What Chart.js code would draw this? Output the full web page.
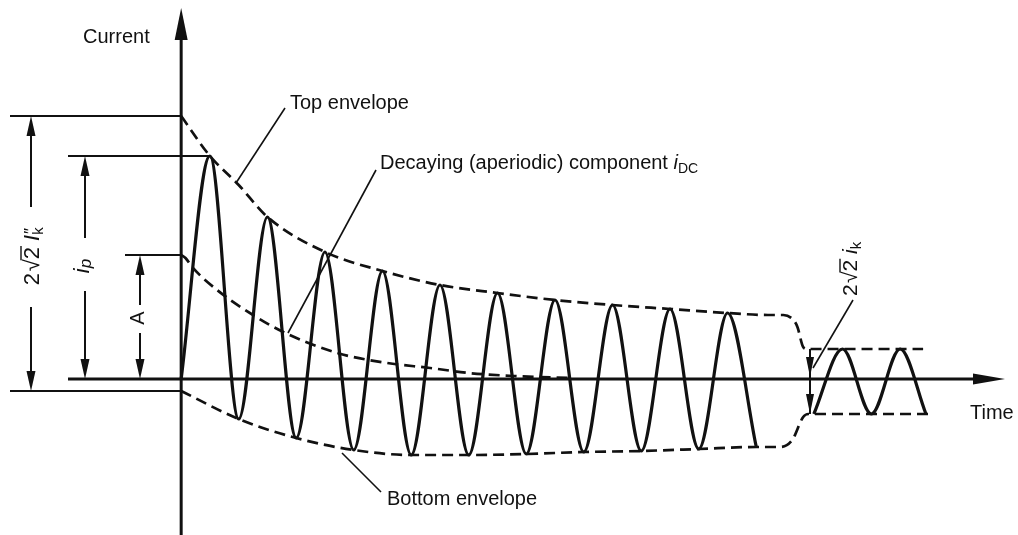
<!DOCTYPE html>
<html>
<head>
<meta charset="utf-8">
<script src="https://cdn.jsdelivr.net/npm/chart.js@4"></script>
<style>
  html, body { margin: 0; padding: 0; background: #fff; }
  #wrap { width: 1018px; height: 535px; position: relative; }
</style>
</head>
<body>
<div id="wrap"><canvas id="chart"></canvas></div>
<script>
// time in ms (one period = 20 ms), current in kA
const waveTime = [0, 10, 20, 30, 40, 50, 60, 70, 80, 90, 100, 110, 120, 130, 140, 150, 160, 170, 180, 190, 200];
const waveCurrent = [0, 22.3, -4.0, 16.2, -5.9, 12.7, -7.1, 10.8, -7.6, 9.4, -7.6, 8.6, -7.5, 7.9, -7.3, 7.4, -7.2, 7.0, -7.0, 6.6, -6.8];

const steadyTime = [220, 230, 240, 250, 259];
const steadyCurrent = [-3.5, 3.0, -3.5, 3.0, -3.5];

const topEnvTime = [0, 10, 20, 30, 50, 70, 90, 110, 130, 150, 170, 190, 204, 209.4, 212.9, 214.3, 216.3, 217.7, 258];
const topEnvCurrent = [26.3, 22.3, 19.4, 16.2, 12.7, 10.8, 9.4, 8.6, 7.9, 7.4, 7.0, 6.6, 6.4, 6.4, 5.9, 5.2, 3.2, 3.0, 3.0];

const bottomEnvTime = [0, 20, 40, 60, 80, 100, 120, 140, 160, 180, 200, 208.3, 212.5, 216.3, 218.1, 259.8];
const bottomEnvCurrent = [-1.2, -4.0, -5.9, -7.1, -7.6, -7.6, -7.5, -7.3, -7.2, -7.0, -6.8, -6.8, -6.1, -3.8, -3.5, -3.5];

const dcTime = [0, 1.5, 3.8, 12.5, 25, 35.5, 54.3, 71.7, 86.6, 100, 115.5, 135];
const dcCurrent = [12.4, 12.1, 11.2, 8.9, 6.4, 4.7, 2.6, 1.6, 1.1, 0.6, 0.3, 0.1];

const timeRange = [-63, 291];
const currentRange = [-15.6, 37.9];

const INK = '#111';
const FONT = "'Liberation Sans', Arial, sans-serif";

function pts(xs, ys) {
  return xs.map((x, i) => ({ x: x, y: ys[i] }));
}

function seg(ctx, x1, y1, x2, y2, w) {
  ctx.lineWidth = w;
  ctx.beginPath();
  ctx.moveTo(x1, y1);
  ctx.lineTo(x2, y2);
  ctx.stroke();
}

function head(ctx, x, y, dir, len, half) {
  len = len || 20; half = half || 4.5;
  ctx.beginPath();
  ctx.moveTo(x, y);
  if (dir === 'up') { ctx.lineTo(x - half, y + len); ctx.lineTo(x + half, y + len); }
  if (dir === 'down') { ctx.lineTo(x - half, y - len); ctx.lineTo(x + half, y - len); }
  if (dir === 'right') { ctx.lineTo(x - len, y - half); ctx.lineTo(x - len, y + half); }
  ctx.closePath();
  ctx.fill();
}

function fontOf(p) {
  return (p.italic ? 'italic ' : '') + (p.size || 20) + 'px ' + FONT;
}

// draws a run of text parts; rotated = reads bottom to top
function rich(ctx, parts, x, y, rotated, center) {
  ctx.save();
  ctx.translate(x, y);
  if (rotated) ctx.rotate(-Math.PI / 2);
  ctx.textBaseline = 'alphabetic';
  ctx.textAlign = 'left';
  const widths = parts.map(p => { ctx.font = fontOf(p); return ctx.measureText(p.text).width; });
  let total = 0;
  parts.forEach((p, i) => { if (!p.stack) total += widths[i]; });
  let cx = center ? -total / 2 : 0;
  let prevX = cx;
  parts.forEach((p, i) => {
    ctx.font = fontOf(p);
    const px = p.stack ? prevX : cx;
    ctx.fillText(p.text, px, p.dy || 0);
    if (p.overline) {
      const oy = -Math.round((p.size || 20) * 0.8);
      ctx.lineWidth = 1.4;
      ctx.beginPath();
      ctx.moveTo(px - 1, oy);
      ctx.lineTo(px + widths[i] + 1, oy);
      ctx.stroke();
    }
    prevX = px;
    if (!p.stack) cx = px + widths[i];
    else cx = Math.max(cx, px + widths[i]);
  });
  ctx.restore();
  return total;
}

const sketch = {
  id: 'sketch',
  afterDatasetsDraw(chart) {
    const ctx = chart.ctx;
    const xs = chart.scales.x, ys = chart.scales.y;
    const X = v => xs.getPixelForValue(v);
    const Y = v => ys.getPixelForValue(v);
    ctx.save();
    ctx.strokeStyle = INK;
    ctx.fillStyle = INK;
    ctx.lineCap = 'butt';

    const x0 = X(0), y0 = Y(0);
    // axes
    seg(ctx, x0, 535, x0, 30, 3);
    head(ctx, x0, 8, 'up', 32, 6.5);
    seg(ctx, 68, y0, 985, y0, 3);
    head(ctx, 1005, y0, 'right', 32, 5.5);

    // extension lines on the left
    const yTop = Y(topEnvCurrent[0]);
    const yPeak = Y(waveCurrent[1]);
    const yA = Y(dcCurrent[0]);
    const yB = Y(bottomEnvCurrent[0]);
    seg(ctx, 10, yTop, x0, yTop, 2);
    seg(ctx, 68, yPeak, X(waveTime[1]), yPeak, 2);
    seg(ctx, 125, yA, x0, yA, 2);
    seg(ctx, 10, yB, x0, yB, 2);

    // dimension: 2 sqrt2 I''k
    seg(ctx, 31, yTop + 18, 31, 207, 2);
    seg(ctx, 31, 307, 31, yB - 18, 2);
    head(ctx, 31, yTop, 'up');
    head(ctx, 31, yB, 'down');
    rich(ctx, [
      { text: '2', size: 22 }, { text: ' ', size: 6 }, { text: '\u221A', size: 22 }, { text: '2', size: 22, overline: true }, { text: ' ', size: 22 },
      { text: 'I', italic: true, size: 22 }, { text: '\u2033', italic: true, size: 17, dy: -3 },
      { text: 'k', size: 15, dy: 4, stack: true }
    ], 39, 257, true, true);

    // dimension: i_p
    seg(ctx, 85, yPeak + 18, 85, 238, 2);
    seg(ctx, 85, 291, 85, y0 - 18, 2);
    head(ctx, 85, yPeak, 'up');
    head(ctx, 85, y0, 'down');
    rich(ctx, [{ text: 'i', italic: true, size: 22 }, { text: 'p', italic: true, size: 17, dy: 2 }], 89, 266, true, true);

    // dimension: A
    seg(ctx, 140, yA + 18, 140, 305, 2);
    seg(ctx, 140, 333, 140, y0 - 18, 2);
    head(ctx, 140, yA, 'up');
    head(ctx, 140, y0, 'down');
    rich(ctx, [{ text: 'A' }], 144, 318, true, true);

    // dimension on the steady part
    const yS1 = Y(steadyCurrent[1]), yS2 = Y(steadyCurrent[0]);
    const xd = 810;
    seg(ctx, xd, yS1, xd, yS2, 2);
    head(ctx, xd, y0 - 2, 'down', 20, 4);
    head(ctx, xd, yS2, 'down', 20, 4);
    rich(ctx, [
      { text: '2', size: 21 }, { text: ' ', size: 5 }, { text: '\u221A', size: 21 }, { text: '2', size: 21, overline: true }, { text: ' ', size: 21 },
      { text: 'i', italic: true, size: 21 }, { text: 'k', size: 15, dy: 4 }
    ], 857, 296, true, false);

    // leaders
    seg(ctx, 285, 108, 236, 183, 1.6);
    seg(ctx, 376, 170, 288, 333, 1.6);
    seg(ctx, 381, 492, 342, 453, 1.6);
    seg(ctx, 853, 300, 813, 368, 1.6);

    // labels
    rich(ctx, [{ text: 'Current' }], 83, 43, false, false);
    rich(ctx, [{ text: 'Top envelope' }], 290, 109, false, false);
    rich(ctx, [{ text: 'Decaying (aperiodic) component ' }, { text: 'i', italic: true }, { text: 'DC', size: 14, dy: 4 }], 380, 169, false, false);
    rich(ctx, [{ text: 'Bottom envelope' }], 387, 505, false, false);
    rich(ctx, [{ text: 'Time' }], 970, 419, false, false);

    ctx.restore();
  }
};

const solid = { borderColor: INK, borderWidth: 3.2, cubicInterpolationMode: 'monotone', pointRadius: 0, fill: false };
const dashed = { borderColor: INK, borderWidth: 2.7, borderDash: [11, 6], cubicInterpolationMode: 'monotone', pointRadius: 0, fill: false };

new Chart(document.getElementById('chart'), {
  type: 'line',
  data: {
    datasets: [
      Object.assign({ label: 'Current', data: pts(waveTime, waveCurrent) }, solid),
      Object.assign({ label: 'Steady state', data: pts(steadyTime, steadyCurrent) }, solid),
      Object.assign({ label: 'Top envelope', data: pts(topEnvTime, topEnvCurrent) }, dashed),
      Object.assign({ label: 'Bottom envelope', data: pts(bottomEnvTime, bottomEnvCurrent) }, dashed),
      Object.assign({ label: 'Decaying component', data: pts(dcTime, dcCurrent) }, dashed)
    ]
  },
  options: {
    responsive: true,
    maintainAspectRatio: false,
    animation: false,
    layout: { padding: 0 },
    plugins: { legend: { display: false }, tooltip: { enabled: false } },
    scales: {
      x: { type: 'linear', min: timeRange[0], max: timeRange[1], display: false },
      y: { type: 'linear', min: currentRange[0], max: currentRange[1], display: false }
    }
  },
  plugins: [sketch]
});
</script>
</body>
</html>
